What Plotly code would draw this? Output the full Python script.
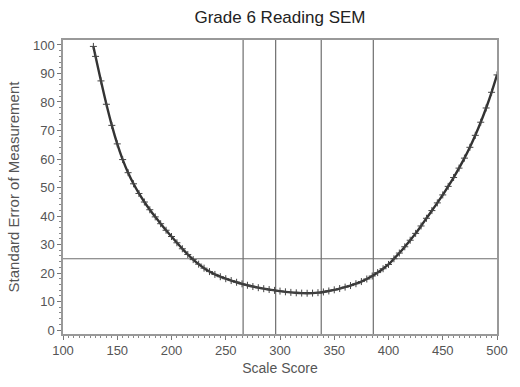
import plotly.graph_objects as go

# Scale scores (x) and SEM values
scale_score = [128, 130, 135, 140, 145, 150, 155, 160, 165, 170, 175, 180, 185, 190, 195,
               200, 205, 210, 215, 220, 225, 230, 235, 240, 245, 250, 255, 260, 265, 270,
               275, 280, 285, 290, 295, 300, 305, 310, 315, 320, 325, 330, 335, 340, 345,
               350, 355, 360, 365, 370, 375, 380, 385, 390, 395, 400, 405, 410, 415, 420,
               425, 430, 435, 440, 445, 450, 455, 460, 465, 470, 475, 480, 485, 490, 495, 500]
sem = [99.5, 96.0, 87.4, 79.2, 71.8, 65.3, 59.8, 55.2, 51.3, 47.9, 44.9, 42.2, 39.7, 37.3, 35.0,
       32.8, 30.6, 28.5, 26.5, 24.7, 23.1, 21.7, 20.5, 19.5, 18.7, 18.0, 17.35, 16.75, 16.2, 15.7,
       15.25, 14.85, 14.5, 14.2, 13.9, 13.65, 13.4, 13.2, 13.05, 12.95, 12.9, 12.95, 13.1, 13.35, 13.7,
       14.1, 14.55, 15.05, 15.6, 16.25, 17.0, 17.9, 18.95, 20.15, 21.5, 23.0, 25.0, 27.0, 29.2, 31.5,
       33.9, 36.5, 39.2, 41.9, 44.6, 47.4, 50.4, 53.5, 56.8, 60.3, 64.1, 68.3, 72.9, 77.9, 83.4, 89.5]

# Reference lines
cut_scores = [266, 296, 338, 386]
sem_reference = [25]

x_ticks = [100, 150, 200, 250, 300, 350, 400, 450, 500]
y_ticks = [0, 10, 20, 30, 40, 50, 60, 70, 80, 90, 100]

fig = go.Figure()
fig.add_trace(go.Scatter(
    x=scale_score, y=sem, mode="lines+markers",
    line=dict(color="#333333", width=2.4, shape="spline"),
    marker=dict(symbol="cross-thin", size=5, line=dict(color="#444444", width=1)),
    showlegend=False, hoverinfo="x+y",
))

shapes = []
for c in cut_scores:
    shapes.append(dict(type="line", xref="x", yref="paper", x0=c, x1=c, y0=0, y1=1,
                       line=dict(color="#6e6e6e", width=1.2), layer="below"))
for r in sem_reference:
    shapes.append(dict(type="line", xref="paper", yref="y", x0=0, x1=1, y0=r, y1=r,
                       line=dict(color="#6e6e6e", width=1.2), layer="below"))

tick_font = dict(family="Liberation Sans Narrow, Liberation Sans, Arial", size=13, color="#555555")

fig.update_layout(
    width=520, height=387,
    margin=dict(l=56, r=18, t=40, b=53),
    paper_bgcolor="white", plot_bgcolor="white",
    title=dict(text="Grade 6 Reading SEM", x=0.5, xref="paper", xanchor="center",
               y=1 - 17 / 387, yref="container", yanchor="middle",
               font=dict(family="Liberation Sans, Arial", size=17, color="#222222")),
    shapes=shapes,
    xaxis=dict(range=[100, 500], tickvals=x_ticks, ticks="outside", ticklen=4, tickwidth=1,
               tickcolor="#777777", showgrid=False, zeroline=False,
               showline=True, linecolor="#999999", linewidth=1.5, mirror=True,
               tickfont=tick_font,
               minor=dict(dtick=5, ticks="outside", ticklen=2, tickcolor="#888888", showgrid=False),
               title=dict(text="Scale Score", standoff=6,
                          font=dict(family="Liberation Sans Narrow, Liberation Sans, Arial",
                                    size=14, color="#555555"))),
    yaxis=dict(range=[-1.4, 101.75], tickvals=y_ticks, ticks="outside", ticklen=4, tickwidth=1,
               tickcolor="#777777", showgrid=False, zeroline=False,
               showline=True, linecolor="#999999", linewidth=1.5, mirror=True,
               tickfont=tick_font,
               minor=dict(dtick=2, ticks="outside", ticklen=2, tickcolor="#888888", showgrid=False),
               title=dict(text="Standard Error of Measurement", standoff=10,
                          font=dict(family="Liberation Sans Narrow, Liberation Sans, Arial",
                                    size=15, color="#555555"))),
)

fig.write_html("out.html")
